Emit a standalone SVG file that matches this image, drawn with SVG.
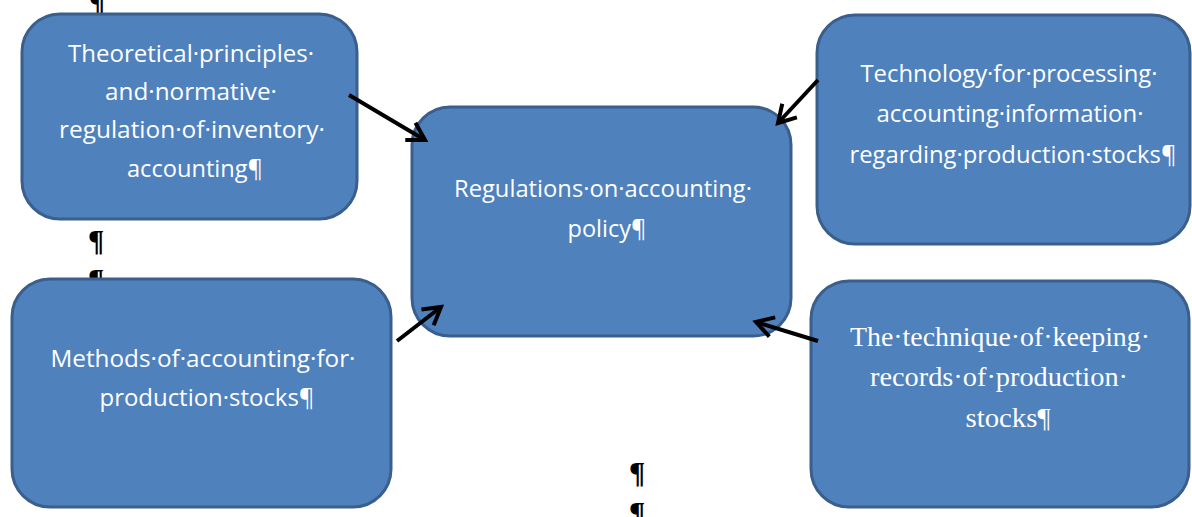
<svg xmlns="http://www.w3.org/2000/svg" width="1192" height="517" viewBox="0 0 1192 517">
<style>
.box{fill:#4F81BD;stroke:#3A5F8C;stroke-width:3}
.t{font-family:"Open Sans","Liberation Sans",sans-serif;font-size:24px;fill:#FFFFFF;text-anchor:middle}
.s{font-family:"Liberation Serif","DejaVu Serif",serif;font-size:28px;fill:#FFFFFF;text-anchor:middle}
.p{font-family:"Liberation Serif",serif;font-size:30px;font-weight:bold;fill:#000000;text-anchor:middle}
.c{stroke:#000000;stroke-width:4;fill:none}
</style>
<defs>
<marker id="ah" markerUnits="userSpaceOnUse" markerWidth="26" markerHeight="26" refX="21" refY="13" orient="auto">
<path d="M4,3 L21,13 L4,23" fill="none" stroke="#000000" stroke-width="4"/>
</marker>
</defs>
<rect width="1192" height="517" fill="#FFFFFF"/>
<g id="marks">
<text class="p" x="97" y="12">¶</text>
<text class="p" x="96" y="250">¶</text>
<text class="p" x="96" y="289">¶</text>
<text class="p" x="637" y="482">¶</text>
<text class="p" x="637" y="522">¶</text>
</g>
<g id="n1">
<rect class="box" x="22" y="14" width="335" height="205" rx="38"/>
<text class="t" x="191" y="62" textLength="246" lengthAdjust="spacingAndGlyphs">Theoretical·principles·</text>
<text class="t" x="191" y="100" textLength="172" lengthAdjust="spacingAndGlyphs">and·normative·</text>
<text class="t" x="192" y="138" textLength="266" lengthAdjust="spacingAndGlyphs">regulation·of·inventory·</text>
<text class="t" x="195" y="177" textLength="136" lengthAdjust="spacingAndGlyphs">accounting¶</text>
</g>
<g id="n2">
<rect class="box" x="412" y="107" width="379" height="229" rx="38"/>
<text class="t" x="603" y="197" textLength="298" lengthAdjust="spacingAndGlyphs">Regulations·on·accounting·</text>
<text class="t" x="607" y="237" textLength="79" lengthAdjust="spacingAndGlyphs">policy¶</text>
</g>
<g id="n3">
<rect class="box" x="817" y="15" width="373" height="229" rx="38"/>
<text class="t" x="1009" y="82" textLength="297" lengthAdjust="spacingAndGlyphs">Technology·for·processing·</text>
<text class="t" x="1010" y="122" textLength="267" lengthAdjust="spacingAndGlyphs">accounting·information·</text>
<text class="t" x="1013" y="163" textLength="327" lengthAdjust="spacingAndGlyphs">regarding·production·stocks¶</text>
</g>
<g id="n4">
<rect class="box" x="12" y="279" width="379" height="228" rx="38"/>
<text class="t" x="203" y="367" textLength="305" lengthAdjust="spacingAndGlyphs">Methods·of·accounting·for·</text>
<text class="t" x="207" y="406" textLength="215" lengthAdjust="spacingAndGlyphs">production·stocks¶</text>
</g>
<g id="n5">
<rect class="box" x="811" y="281" width="378" height="226" rx="38"/>
<text class="s" x="1000" y="346" textLength="300" lengthAdjust="spacingAndGlyphs">The·technique·of·keeping·</text>
<text class="s" x="999" y="386" textLength="258" lengthAdjust="spacingAndGlyphs">records·of·production·</text>
<text class="s" x="1008" y="427" textLength="85" lengthAdjust="spacingAndGlyphs">stocks¶</text>
</g>
<g id="connectors">
<line class="c" x1="349" y1="95" x2="425" y2="140" marker-end="url(#ah)"/>
<line class="c" x1="818" y1="80" x2="778" y2="123" marker-end="url(#ah)"/>
<line class="c" x1="397" y1="341" x2="441" y2="307" marker-end="url(#ah)"/>
<line class="c" x1="818" y1="341" x2="756" y2="322" marker-end="url(#ah)"/>
</g>
</svg>
